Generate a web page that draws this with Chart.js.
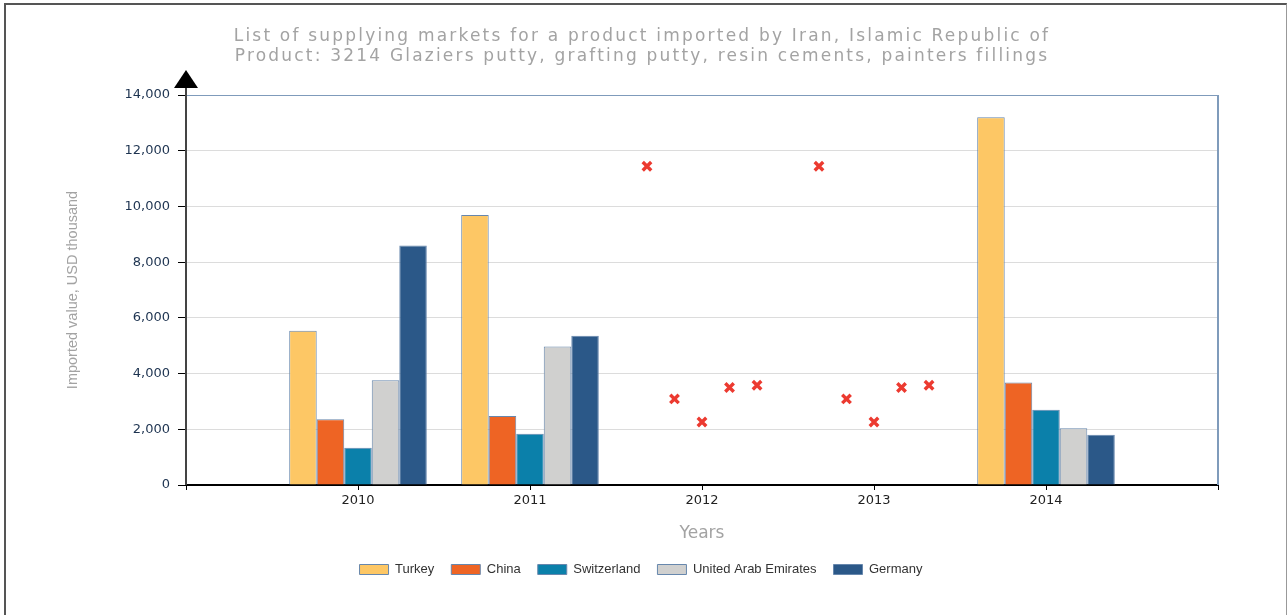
<!DOCTYPE html>
<html>
<head>
<meta charset="utf-8">
<script src="https://cdn.jsdelivr.net/npm/chart.js@4.4.1/dist/chart.umd.min.js"></script>
<style>
  html, body { margin: 0; padding: 0; background: #fff; }
  #wrap { position: absolute; left: 0; top: 0; width: 1288px; height: 615px; }
  #frame { position: absolute; left: 4px; top: 3px; width: 1280px; height: 640px;
           border-left: 2px solid #555; border-top: 2px solid #555; border-right: 1px solid #999; }
</style>
</head>
<body>
<div id="wrap">
  <div id="frame"></div>
  <canvas id="chart" width="1288" height="615"></canvas>
</div>
<script>
// years on the x axis
var years = ["2010", "2011", "2012", "2013", "2014"];
var countries = ["Turkey", "China", "Switzerland", "United Arab Emirates", "Germany"];

// imported value, USD thousand (null = no reported data)
var turkey      = [5540, 9690, null, null, 13200];
var china       = [2360, 2480, null, null, 3680];
var switzerland = [1340, 1840, null, null, 2700];
var uae         = [3760, 4970, null, null, 2040];
var germany     = [8600, 5360, null, null, 1800];

// mirror estimates shown as red crosses (Turkey, China, Switzerland, UAE, Germany)
var mirror2012 = [11440, 3090, 2260, 3500, 3580];
var mirror2013 = [11440, 3090, 2260, 3500, 3580];

var yTicks = [0, 2000, 4000, 6000, 8000, 10000, 12000, 14000];
var titleLines = ["List of supplying markets for a product imported by Iran, Islamic Republic of",
                  "Product: 3214 Glaziers putty, grafting putty, resin cements, painters fillings"];

var colors = ["#fdc765", "#ee6424", "#0b80aa", "#d0d0cf", "#2b5888"];
var seriesValues = [turkey, china, switzerland, uae, germany];
var catPct = 0.8;

// x axis runs on year index, with one empty slot each side
var datasets = [];
for (var i = 0; i < countries.length; i++) {
    datasets.push({
        label: countries[i],
        data: seriesValues[i].map(function (v, k) { return {x: k, y: v}; }),
        backgroundColor: colors[i],
        borderColor: "#6787ad",
        borderWidth: 1,
        barPercentage: 1.0,
        categoryPercentage: catPct
    });
}

// crosses sit above the slot each country's bar would use
var mirrorPoints = [];
var slot = catPct / countries.length;
[[2, mirror2012], [3, mirror2013]].forEach(function (m) {
    for (var s = 0; s < m[1].length; s++) {
        mirrorPoints.push({x: m[0] + (s - 2) * slot, y: m[1][s]});
    }
});
datasets.push({
    type: "line",
    label: "Mirror",
    data: mirrorPoints,
    showLine: false,
    pointStyle: "crossRot",
    pointRadius: 6,
    pointBorderWidth: 3.4,
    pointBorderColor: "#ec3a30",
    pointBackgroundColor: "#ec3a30"
});

var spacedTitle = {
    id: "spacedTitle",
    afterDraw: function (chart) {
        var ctx = chart.ctx;
        ctx.save();
        ctx.font = "17px 'DejaVu Sans'";
        ctx.fillStyle = "#a3a3a3";
        ctx.textAlign = "center";
        ctx.textBaseline = "middle";
        ctx.letterSpacing = "2.2px";
        ctx.fillText(titleLines[0], 642, 37);
        ctx.fillText(titleLines[1], 642, 57);
        ctx.restore();
    }
};

var frameLines = {
    id: "frameLines",
    afterDraw: function (chart) {
        var a = chart.chartArea, ctx = chart.ctx;
        ctx.save();
        // top and right edges of the plot
        ctx.strokeStyle = "#7f9bbb";
        ctx.lineWidth = 1;
        ctx.beginPath();
        ctx.moveTo(a.left, a.top + 0.5);
        ctx.lineTo(a.right, a.top + 0.5);
        ctx.stroke();
        ctx.lineWidth = 2;
        ctx.beginPath();
        ctx.moveTo(a.right, a.top);
        ctx.lineTo(a.right, a.bottom);
        ctx.stroke();
        // y axis line running past the plot
        ctx.strokeStyle = "#444";
        ctx.lineWidth = 2;
        ctx.beginPath();
        ctx.moveTo(a.left, a.top - 8);
        ctx.lineTo(a.left, a.bottom);
        ctx.stroke();
        // arrow head
        ctx.fillStyle = "#000";
        ctx.beginPath();
        ctx.moveTo(a.left, a.top - 25);
        ctx.lineTo(a.left - 12, a.top - 7);
        ctx.lineTo(a.left + 12, a.top - 7);
        ctx.closePath();
        ctx.fill();
        ctx.restore();
    }
};

var ctx = document.getElementById("chart").getContext("2d");
var chart = new Chart(ctx, {
    type: "bar",
    data: {datasets: datasets},
    plugins: [frameLines, spacedTitle],
    options: {
        responsive: false,
        animation: false,
        layout: {padding: {left: 64, right: 70, top: 95, bottom: 29}},
        plugins: {
            tooltip: {enabled: false},
            title: {display: false},
            legend: {
                position: "bottom",
                labels: {
                    boxWidth: 29,
                    boxHeight: 10,
                    padding: 17,
                    color: "#333",
                    font: {family: "Liberation Sans", size: 13},
                    filter: function (item) { return item.datasetIndex < countries.length; }
                }
            }
        },
        scales: {
            x: {
                type: "linear",
                min: -1,
                max: years.length,
                offset: false,
                grid: {offset: false, drawOnChartArea: false, drawTicks: true, tickLength: 5, tickColor: "#000"},
                border: {color: "#000", width: 2},
                ticks: {
                    stepSize: 1,
                    color: "#222",
                    font: {family: "DejaVu Sans", size: 13},
                    padding: 3,
                    callback: function (v) { return years[v] || ""; }
                },
                title: {display: true, text: "Years", color: "#a3a3a3",
                        font: {family: "DejaVu Sans", size: 17}, padding: {top: 12, bottom: 2}}
            },
            y: {
                min: 0,
                max: 14000,
                afterFit: function (scale) { scale.width = 122; },
                afterBuildTicks: function (scale) {
                    scale.ticks = yTicks.map(function (v) { return {value: v}; });
                },
                grid: {color: "#dcdcdc", tickColor: "#000", tickLength: 8, lineWidth: 1},
                border: {display: false},
                ticks: {
                    color: "#1d3350",
                    font: {family: "DejaVu Sans", size: 13},
                    padding: 8,
                    callback: function (v) { return v.toLocaleString("en-US"); }
                },
                title: {display: true, text: "Imported value, USD thousand", color: "#a3a3a3",
                        font: {family: "Liberation Sans", size: 14.5}, padding: 0}
            }
        }
    }
});
</script>
</body>
</html>
